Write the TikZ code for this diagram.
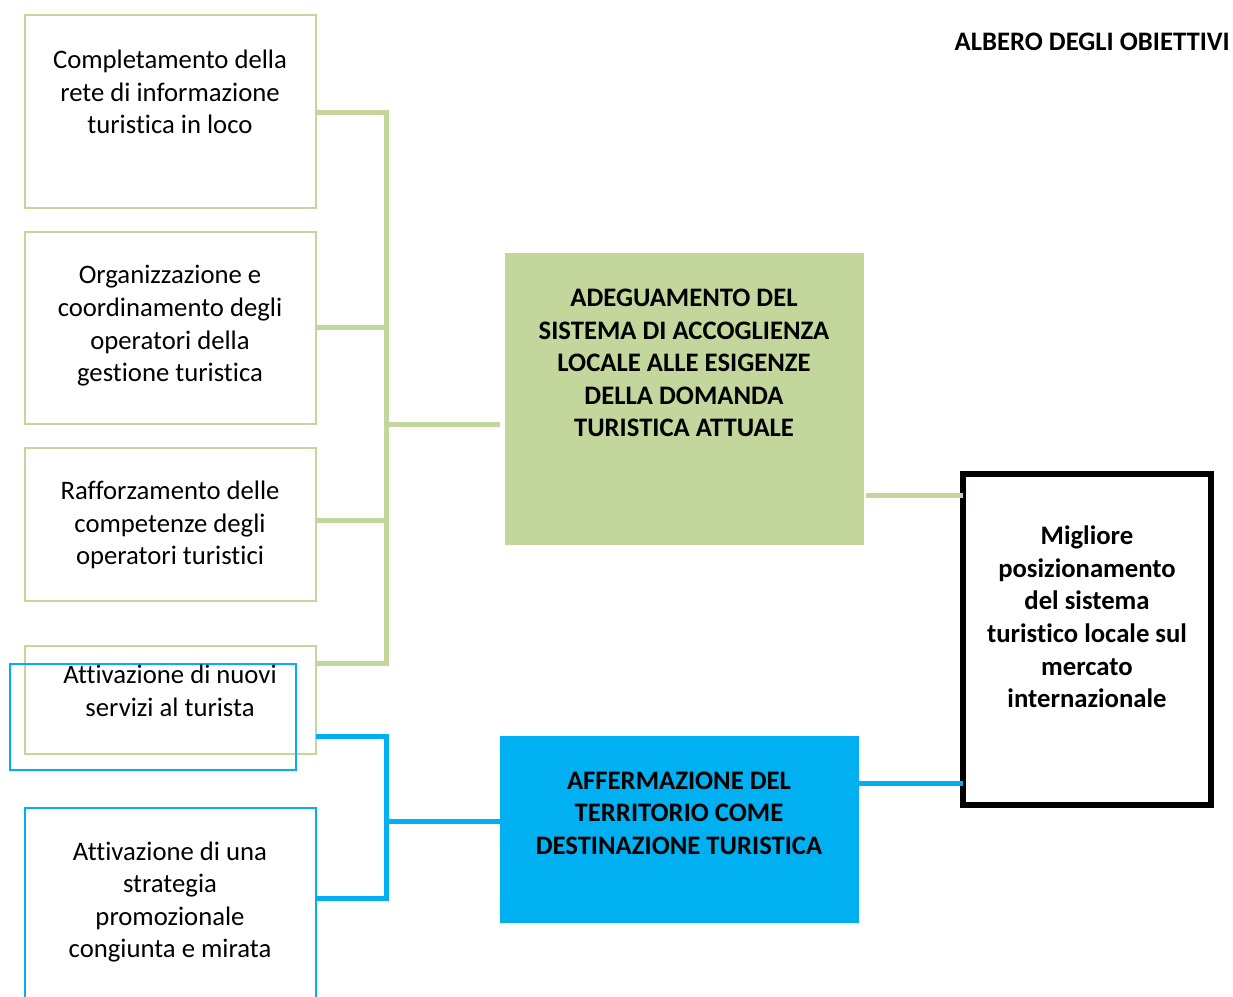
\documentclass[tikz,border=0pt]{standalone}
\usepackage{fontspec}
\setmainfont{Carlito}[Ligatures=NoCommon]
\definecolor{lgreen}{HTML}{C3D69B}
\definecolor{lblue}{HTML}{00B0F0}
\begin{document}
\begin{tikzpicture}[x=1pt,y=-1pt,
  gbox/.style={draw=lgreen,line width=2pt,rectangle,inner sep=0pt,outer sep=0pt,anchor=north west},
  bbox/.style={draw=lblue,line width=2pt,rectangle,inner sep=0pt,outer sep=0pt,anchor=north west},
  txt/.style={align=center,inner sep=0pt,font=\fontsize{26.7}{32.6}\selectfont},
  btxt/.style={align=center,inner sep=0pt,font=\fontsize{26.7}{32.6}\selectfont\bfseries},
  gline/.style={draw=lgreen,line width=5pt},
  bline/.style={draw=lblue,line width=5pt}]
\useasboundingbox (0,0) rectangle (1233,996);
\clip (0,0) rectangle (1233,996);
\fill[white] (0,0) rectangle (1233,996);
% left boxes
\node[gbox,minimum width=291pt,minimum height=193pt] (b1) at (25,15) {};
\node[gbox,minimum width=291pt,minimum height=192pt] (b2) at (25,232) {};
\node[gbox,minimum width=291pt,minimum height=153pt] (b3) at (25,448) {};
\node[gbox,minimum width=291pt,minimum height=108pt] (b4) at (25,646) {};
\node[bbox,minimum width=286pt,minimum height=106pt] (b4b) at (10,664) {};
\node[bbox,minimum width=291pt,minimum height=200pt] (b5) at (25,808) {};
\node[txt] (t1) at (170,92) {Completamento della\\rete di informazione\\turistica in loco};
\node[txt] (t2) at (170,326) {Organizzazione e\\coordinamento degli\\operatori della\\gestione turistica};
\node[txt] (t3) at (170,525) {Rafforzamento delle\\competenze degli\\operatori turistici};
\node[txt] (t4) at (170,691) {Attivazione di nuovi\\servizi al turista};
\node[txt] (t5) at (170,902) {Attivazione di una\\strategia\\promozionale\\congiunta e mirata};
% middle boxes
\node[fill=lgreen,rectangle,inner sep=0pt,outer sep=0pt,anchor=north west,minimum width=359pt,minimum height=292pt] (g) at (505,253) {};
\node[btxt] (gt) at (684,363) {ADEGUAMENTO DEL\\SISTEMA DI ACCOGLIENZA\\LOCALE ALLE ESIGENZE\\DELLA DOMANDA\\TURISTICA ATTUALE};
\node[fill=lblue,rectangle,inner sep=0pt,outer sep=0pt,anchor=north west,minimum width=359pt,minimum height=187pt] (bl) at (500,736) {};
\node[btxt] (blt) at (679,813) {AFFERMAZIONE DEL\\TERRITORIO COME\\DESTINAZIONE TURISTICA};
% right box
\node[draw=black,line width=6pt,rectangle,inner sep=0pt,outer sep=0pt,anchor=north west,minimum width=248pt,minimum height=331pt] (r) at (963,474) {};
\node[btxt] (rt) at (1087,617) {Migliore\\posizionamento\\del sistema\\turistico locale sul\\mercato\\internazionale};
% title
\node[anchor=east,inner sep=0pt,font=\fontsize{26.7}{32}\selectfont\bfseries] (title) at (1230,42) {ALBERO DEGLI OBIETTIVI};
% green connectors
\coordinate (gj) at (386,424);
\draw[gline] (b1.east |- 0,112) -| (386,663) -- (b4.east |- 0,663);
\draw[gline] (b2.east |- 0,327) -- (386,327);
\draw[gline] (b3.east |- 0,520) -- (386,520);
\draw[gline] (gj) -- (500,424);
\draw[gline] (866,495) -- (r.west |- 0,495);
% blue connectors
\coordinate (bj) at (386,821);
\draw[bline] (b4.east |- 0,736) -| (386,898) -- (b5.east |- 0,898);
\draw[bline] (bj) -- (bl.west |- 0,821);
\draw[bline] (bl.east |- 0,783) -- (r.west |- 0,783);
\end{tikzpicture}
\end{document}
